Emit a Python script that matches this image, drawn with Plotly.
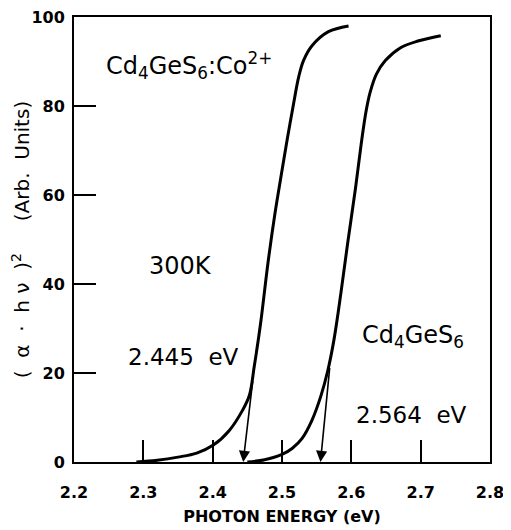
import plotly.graph_objects as go

# ---- data ----
co_x = [2.29, 2.32, 2.35, 2.377, 2.401, 2.424, 2.443, 2.453, 2.460, 2.469,
        2.480, 2.490, 2.500, 2.507, 2.517, 2.524, 2.531, 2.543, 2.567, 2.596]
co_y = [0.0, 0.4, 1.1, 2.0, 3.8, 7.1, 11.6, 15.0, 21.5, 31.0,
        45.0, 56.0, 65.5, 72.0, 80.8, 86.5, 90.2, 93.5, 96.7, 98.0]

pure_x = [2.45, 2.475, 2.50, 2.515, 2.529, 2.543, 2.556, 2.566, 2.575, 2.585, 2.595, 2.606,
          2.614, 2.621, 2.627, 2.636, 2.649, 2.671, 2.696, 2.729]
pure_y = [0.0, 0.5, 1.7, 3.1, 5.3, 9.3, 14.8, 20.5, 27.5, 38.0, 49.5, 61.5,
          71.2, 78.6, 83.0, 87.1, 90.2, 93.1, 94.6, 95.8]

# band-gap extrapolation arrows: tail (on tangent) -> tip (on axis)
arrow_tail_x = [2.458, 2.569]
arrow_tail_y = [18.5, 21.5]
arrow_tip_x = [2.444, 2.5555]
arrow_tip_y = [0.0, 0.0]

x_ticks = [2.2, 2.3, 2.4, 2.5, 2.6, 2.7, 2.8]
y_ticks = [0, 20, 40, 60, 80, 100]

labels = [
    ("Cd<sub>4</sub>GeS<sub>6</sub>:Co<sup>2+</sup>", 2.243, 89.0, 24),
    ("300K", 2.306, 44.0, 24),
    ("2.445\u00a0\u00a0eV", 2.2757, 23.7, 23),
    ("Cd<sub>4</sub>GeS<sub>6</sub>", 2.612, 28.3, 24),
    ("2.564\u00a0\u00a0eV", 2.604, 10.5, 23),
]

FONT = "DejaVu Sans"

fig = go.Figure()
for xs, ys in ((co_x, co_y), (pure_x, pure_y)):
    fig.add_trace(go.Scatter(x=xs, y=ys, mode="lines",
                             line=dict(color="black", width=3, shape="spline", smoothing=1.0),
                             showlegend=False, hoverinfo="skip"))

for tx, ty, hx, hy in zip(arrow_tail_x, arrow_tail_y, arrow_tip_x, arrow_tip_y):
    fig.add_annotation(x=hx, y=hy, ax=tx, ay=ty, xref="x", yref="y",
                       axref="x", ayref="y", text="", showarrow=True,
                       arrowhead=2, arrowsize=1.4, arrowwidth=1.6,
                       arrowcolor="black", standoff=0, startstandoff=0)

for txt, x, y, sz in labels:
    fig.add_annotation(x=x, y=y, xref="x", yref="y", text=txt, showarrow=False,
                       xanchor="left", yanchor="middle",
                       font=dict(family=FONT, size=sz, color="black"))

fig.update_layout(
    width=511, height=530,
    margin=dict(l=66, r=29, t=9, b=76),
    paper_bgcolor="white", plot_bgcolor="white",
    showlegend=False,
)
fig.update_xaxes(
    range=[2.2, 2.8], tickvals=x_ticks, ticktext=[f"{v:.1f}" for v in x_ticks],
    ticks="inside", ticklen=22, tickwidth=2, tickcolor="black",
    showline=True, linewidth=2, linecolor="black", mirror=True,
    showgrid=False, zeroline=False, ticklabelstandoff=15, automargin=False,
    ticklabeloverflow="allow",
    tickfont=dict(family=FONT, size=16, color="black", weight="bold"),
    title=dict(text="PHOTON ENERGY (eV)", standoff=10,
               font=dict(family=FONT, size=16, color="black", weight="bold")),
)
fig.update_yaxes(
    range=[0, 100], tickvals=y_ticks,
    ticks="inside", ticklen=22, tickwidth=2, tickcolor="black",
    showline=True, linewidth=2, linecolor="black", mirror=True,
    showgrid=False, zeroline=False, ticklabelstandoff=4, automargin=False,
    ticklabeloverflow="allow",
    tickfont=dict(family=FONT, size=16, color="black", weight="bold"),
    title=dict(text="(\u00a0\u00a0α\u00a0\u00a0·\u00a0\u00a0h\u00a0ν\u00a0\u00a0)<sup>2</sup>\u00a0\u00a0\u00a0\u00a0\u00a0(Arb.\u00a0\u00a0Units)",
               standoff=6,
               font=dict(family=FONT, size=20, color="black")),
)

fig.write_html("out.html")
